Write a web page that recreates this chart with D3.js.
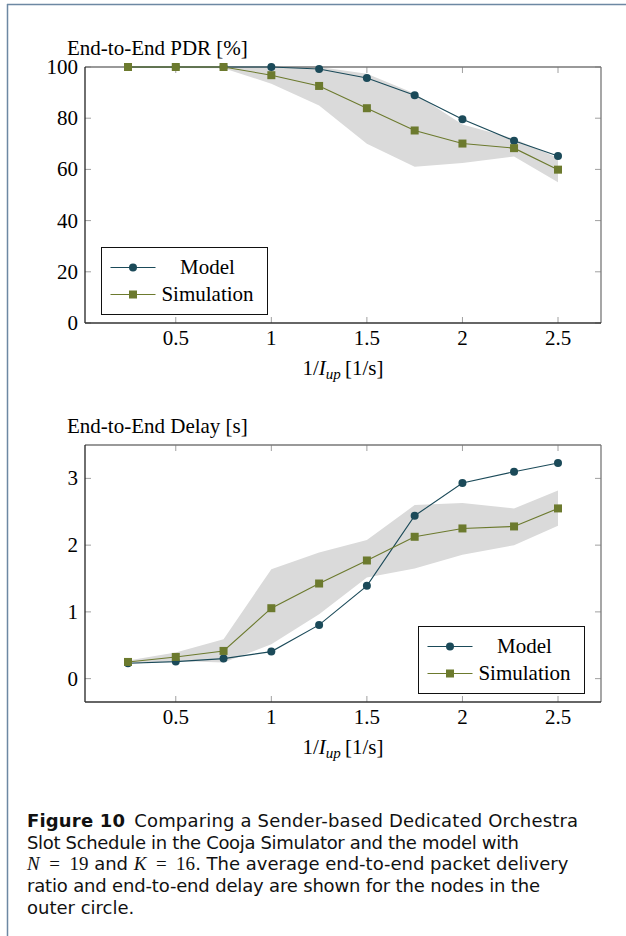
<!DOCTYPE html>
<html>
<head>
<meta charset="utf-8">
<script src="https://cdn.jsdelivr.net/npm/d3@7"></script>
<style>
  body { margin: 0; background: #fff; }
  svg { display: block; }
</style>
</head>
<body>
<script>
// x values (1/I_up)
var rates = [0.25, 0.5, 0.75, 1, 1.25, 1.5, 1.75, 2, 2.27, 2.5]

// End-to-end PDR [%]
var pdrModel = [100, 100, 100, 100, 99.2, 95.7, 89, 79.6, 71.2, 65.2]
var pdrSim   = [100, 100, 100, 96.8, 92.6, 83.9, 75.2, 70.1, 68.3, 59.9]
var pdrSimHi = [100, 100, 100, 100, 100, 97.4, 89.6, 77.5, 72, 64.5]
var pdrSimLo = [99.6, 99.6, 99.5, 93.5, 85, 70, 61, 62.5, 65, 55]

// End-to-end delay [s]
var delayModel = [0.23, 0.255, 0.3, 0.405, 0.805, 1.39, 2.44, 2.93, 3.1, 3.23]
var delaySim   = [0.25, 0.325, 0.415, 1.055, 1.425, 1.77, 2.125, 2.25, 2.28, 2.55]
var delaySimHi = [0.27, 0.39, 0.59, 1.64, 1.89, 2.075, 2.6, 2.63, 2.55, 2.82]
var delaySimLo = [0.22, 0.265, 0.24, 0.515, 0.965, 1.515, 1.65, 1.855, 2.0, 2.29]

var xTicks = [0.5, 1, 1.5, 2, 2.5]
var pdrTicks = [0, 20, 40, 60, 80, 100]
var delayTicks = [0, 1, 2, 3]
var seriesNames = ['Model', 'Simulation']

var W = 626, H = 936
var modelColor = '#1b4a59'
var simColor = '#6c7a2e'
var bandColor = '#dadada'
var serif = '"Liberation Serif", "Times New Roman", serif'
var fs = 21

var svg = d3.select('body').append('svg')
  .attr('width', W).attr('height', H)

// page frame (left + top rule)
svg.append('line').attr('x1', 7.5).attr('x2', 7.5).attr('y1', 4).attr('y2', H)
  .attr('stroke', '#6d88a3').attr('stroke-width', 1.5)
svg.append('line').attr('x1', 7).attr('x2', W).attr('y1', 4.5).attr('y2', 4.5)
  .attr('stroke', '#6d88a3').attr('stroke-width', 1.5)

function drawPanel(opt) {
  var x = d3.scaleLinear().domain([0.025, 2.725]).range([85, 601])
  var y = d3.scaleLinear().domain(opt.yDomain).range([opt.bottom, opt.top])
  var g = svg.append('g')

  var rows = rates.map((r, i) => ({ x: r, m: opt.model[i], s: opt.sim[i], hi: opt.hi[i], lo: opt.lo[i] }))

  // min/max band
  g.append('path')
    .datum(rows)
    .attr('fill', bandColor)
    .attr('d', d3.area().x(d => x(d.x)).y0(d => y(d.lo)).y1(d => y(d.hi)))

  // ticks (inside, all four sides)
  var tickCol = '#a0a0a0'
  xTicks.forEach(function(t) {
    g.append('line').attr('x1', x(t)).attr('x2', x(t)).attr('y1', opt.bottom).attr('y2', opt.bottom - 6)
      .attr('stroke', tickCol)
    g.append('line').attr('x1', x(t)).attr('x2', x(t)).attr('y1', opt.top).attr('y2', opt.top + 6)
      .attr('stroke', tickCol)
    g.append('text').attr('x', x(t)).attr('y', opt.bottom + 22)
      .attr('text-anchor', 'middle').attr('font-family', serif).attr('font-size', fs)
      .text(t)
  })
  opt.yTicks.forEach(function(t) {
    g.append('line').attr('x1', 85).attr('x2', 91).attr('y1', y(t)).attr('y2', y(t))
      .attr('stroke', tickCol)
    g.append('line').attr('x1', 601).attr('x2', 595).attr('y1', y(t)).attr('y2', y(t))
      .attr('stroke', tickCol)
    g.append('text').attr('x', 78).attr('y', y(t) + 7)
      .attr('text-anchor', 'end').attr('font-family', serif).attr('font-size', fs)
      .text(t)
  })

  // frame: top/right grey, left/bottom dark
  g.append('line').attr('x1', 85).attr('x2', 601).attr('y1', opt.top).attr('y2', opt.top)
    .attr('stroke', '#777').attr('stroke-width', 1.3)
  g.append('line').attr('x1', 601).attr('x2', 601).attr('y1', opt.top).attr('y2', opt.bottom)
    .attr('stroke', '#777').attr('stroke-width', 1.3)
  g.append('line').attr('x1', 85).attr('x2', 85).attr('y1', opt.top).attr('y2', opt.bottom)
    .attr('stroke', '#222').attr('stroke-width', 1.3)
  g.append('line').attr('x1', 85).attr('x2', 601).attr('y1', opt.bottom).attr('y2', opt.bottom)
    .attr('stroke', '#333').attr('stroke-width', 1.3)

  var line = d3.line().x(d => x(d[0])).y(d => y(d[1]))

  // model
  g.append('path').datum(rows.map(d => [d.x, d.m]))
    .attr('fill', 'none').attr('stroke', modelColor).attr('stroke-width', 1.1)
    .attr('d', line)
  g.selectAll('.dot').data(rows).enter().append('circle')
    .attr('cx', d => x(d.x)).attr('cy', d => y(d.m)).attr('r', 4)
    .attr('fill', modelColor)

  // simulation (drawn on top)
  g.append('path').datum(rows.map(d => [d.x, d.s]))
    .attr('fill', 'none').attr('stroke', simColor).attr('stroke-width', 1.1)
    .attr('d', line)
  g.selectAll('.sq').data(rows).enter().append('rect')
    .attr('x', d => x(d.x) - 4).attr('y', d => y(d.s) - 4)
    .attr('width', 8).attr('height', 8).attr('fill', simColor)

  // title
  g.append('text').attr('x', 67).attr('y', opt.top - 12)
    .attr('font-family', serif).attr('font-size', fs)
    .text(opt.title)

  // x label  1/I_up [1/s]
  var xl = g.append('text').attr('x', 343).attr('y', opt.bottom + 52)
    .attr('text-anchor', 'middle').attr('font-family', serif).attr('font-size', fs)
  xl.append('tspan').text('1/')
  xl.append('tspan').attr('font-style', 'italic').text('I')
  xl.append('tspan').attr('font-style', 'italic').attr('font-size', 15).attr('dy', 4).text('up')
  xl.append('tspan').attr('dy', -4).text('\u2009[1/s]')

  // legend
  var L = opt.legend
  var lg = g.append('g').attr('transform', 'translate(' + L.x + ',' + L.y + ')')
  lg.append('rect').attr('width', 166).attr('height', 67)
    .attr('fill', '#fff').attr('stroke', '#111').attr('stroke-width', 1)
  seriesNames.forEach(function(name, i) {
    var cy = 20 + i * 27
    var col = i === 0 ? modelColor : simColor
    lg.append('line').attr('x1', 9).attr('x2', 54).attr('y1', cy).attr('y2', cy)
      .attr('stroke', col).attr('stroke-width', 1.1)
    if (i === 0) {
      lg.append('circle').attr('cx', 31.5).attr('cy', cy).attr('r', 4).attr('fill', col)
    } else {
      lg.append('rect').attr('x', 27.5).attr('y', cy - 4).attr('width', 8).attr('height', 8).attr('fill', col)
    }
    lg.append('text').attr('x', 106).attr('y', cy + 6)
      .attr('text-anchor', 'middle').attr('font-family', serif).attr('font-size', fs)
      .text(name)
  })
}

drawPanel({
  top: 67, bottom: 323, yDomain: [0, 100], yTicks: pdrTicks,
  model: pdrModel, sim: pdrSim, hi: pdrSimHi, lo: pdrSimLo,
  title: 'End-to-End PDR [%]',
  legend: { x: 101.5, y: 247.5 }
})

drawPanel({
  top: 445, bottom: 702, yDomain: [-0.35, 3.5], yTicks: delayTicks,
  model: delayModel, sim: delaySim, hi: delaySimHi, lo: delaySimLo,
  title: 'End-to-End Delay [s]',
  legend: { x: 418.5, y: 626.5 }
})

// caption
var capFont = '"DejaVu Sans", "Open Sans", sans-serif'
var cap = svg.append('g').attr('font-family', capFont).attr('font-size', 18).attr('fill', '#111')
var capLines = [
  [['b', 'Figure 10'], ['t', '\u2002Comparing a Sender-based Dedicated Orchestra']],
  [['t', 'Slot Schedule in the Cooja Simulator and the model with']],
  [['mi', 'N'], ['m', '\u2002=\u200219'], ['t', ' and '], ['mi', 'K'], ['m', '\u2002=\u200216'], ['t', '. The average end-to-end packet delivery']],
  [['t', 'ratio and end-to-end delay are shown for the nodes in the']],
  [['t', 'outer circle.']]
]
var capWidths = [551, 492, null, 513, null]
capLines.forEach(function(parts, i) {
  var t = cap.append('text').attr('x', 27).attr('y', 827 + i * 21.7)
  if (capWidths[i]) t.attr('textLength', capWidths[i]).attr('lengthAdjust', 'spacing')
  parts.forEach(function(p) {
    var s = t.append('tspan').text(p[1])
    if (p[0] === 'b') s.attr('font-weight', 'bold')
    if (p[0] === 'mi') s.attr('font-family', serif).attr('font-style', 'italic').attr('font-size', 19)
    if (p[0] === 'm') s.attr('font-family', serif).attr('font-size', 19)
  })
})
</script>
</body>
</html>
